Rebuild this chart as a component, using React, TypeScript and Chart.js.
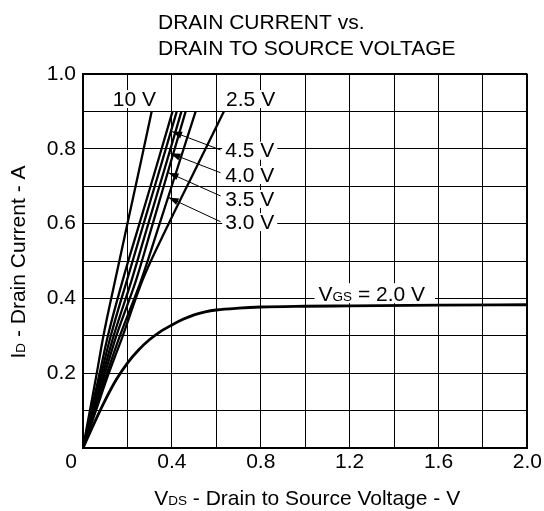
import React, { useEffect, useRef } from "react";
import { Chart, registerables } from "chart.js";

Chart.register(...registerables);

// ---- data ----
// Drain current (A) levels at which the steep VGS curves were read
const fanCurrents = [0, 0.1, 0.2, 0.3, 0.449, 0.6, 0.75, 0.9];
// Drain-to-source voltage (V) of each curve at those currents
const vds10V = [0, 0.031, 0.062, 0.092, 0.145, 0.2, 0.255, 0.309];
const vdsUnlabeled = [0, 0.037, 0.075, 0.112, 0.179, 0.254, 0.329, 0.403];
const vds4p5V = [0, 0.041, 0.083, 0.125, 0.198, 0.273, 0.348, 0.422];
const vds4p0V = [0, 0.045, 0.091, 0.138, 0.219, 0.294, 0.369, 0.443];
const vds3p5V = [0, 0.049, 0.099, 0.15, 0.239, 0.314, 0.388, 0.462];
const vds3p0V = [0, 0.054, 0.108, 0.166, 0.262, 0.345, 0.426, 0.507];
const vds2p5V = [0, 0.058, 0.116, 0.179, 0.268, 0.386, 0.51, 0.634];

// VGS = 2.0 V curve
const vds2p0V = [0, 0.05, 0.1, 0.15, 0.2, 0.25, 0.3, 0.35, 0.4, 0.45, 0.5, 0.55, 0.6, 0.7, 0.8, 1.0, 1.2, 1.6, 2.0];
const id2p0V = [0, 0.066, 0.128, 0.183, 0.227, 0.262, 0.29, 0.312, 0.329, 0.344, 0.356, 0.364, 0.369, 0.374, 0.377, 0.379, 0.38, 0.382, 0.383];

// tick labels
const xTickValues = [0.4, 0.8, 1.2, 1.6, 2.0];
const xTickLabels = ["0.4", "0.8", "1.2", "1.6", "2.0"];
const yTickValues = [0.2, 0.4, 0.6, 0.8, 1.0];
const yTickLabels = ["0.2", "0.4", "0.6", "0.8", "1.0"];
const originLabel = "0";

// titles
const titleLines = ["DRAIN CURRENT vs.", "DRAIN TO SOURCE VOLTAGE"];

// curve labels (left edge in V, vertical centre in A)
const curveLabels = ["10 V", "2.5 V", "4.5 V", "4.0 V", "3.5 V", "3.0 V"];
const curveLabelX = [0.134, 0.644, 0.64, 0.64, 0.64, 0.64];
const curveLabelY = [0.933, 0.933, 0.795, 0.73, 0.666, 0.604];

// arrows from labels 4.5/4.0/3.5/3.0 V to their curves
const arrowTailX = [0.619, 0.619, 0.619, 0.619];
const arrowTailY = [0.797, 0.736, 0.674, 0.605];
const arrowTipX = [0.401, 0.393, 0.385, 0.385];
const arrowTipY = [0.846, 0.788, 0.736, 0.67];

// VGS = 2.0 V label
const vgsLabelX = 1.06;
const vgsLabelY = 0.414;

const FONT_FAMILY = '"Liberation Sans", Arial, Helvetica, sans-serif';
const MAIN = 21;
const SUB = 13.5;

type Seg = { t: string; s: number };

function segWidth(ctx: CanvasRenderingContext2D, segs: Seg[]) {
  let w = 0;
  for (const sg of segs) {
    ctx.font = `${sg.s}px ${FONT_FAMILY}`;
    w += ctx.measureText(sg.t).width;
  }
  return w;
}

function drawSegs(ctx: CanvasRenderingContext2D, segs: Seg[], x: number, y: number) {
  let cx = x;
  ctx.textAlign = "left";
  for (const sg of segs) {
    ctx.font = `${sg.s}px ${FONT_FAMILY}`;
    ctx.fillText(sg.t, cx, y);
    cx += ctx.measureText(sg.t).width;
  }
}

const overlayPlugin = {
  id: "overlay",
  beforeDatasetsDraw(chart: any) {
    const { ctx, scales } = chart;
    const xs = scales.x;
    const ys = scales.y;
    ctx.save();
    ctx.textBaseline = "middle";
    ctx.font = `${MAIN}px ${FONT_FAMILY}`;
    // curve labels with white background
    for (let i = 0; i < curveLabels.length; i++) {
      const px = xs.getPixelForValue(curveLabelX[i]);
      const py = ys.getPixelForValue(curveLabelY[i]);
      const w = ctx.measureText(curveLabels[i]).width;
      ctx.fillStyle = "#fff";
      ctx.fillRect(px - 3, py - 9, w + 6, 18);
      ctx.fillStyle = "#000";
      ctx.fillText(curveLabels[i], px, py + 1);
    }
    // arrows
    ctx.strokeStyle = "#000";
    ctx.fillStyle = "#000";
    ctx.lineWidth = 1;
    for (let i = 0; i < arrowTipX.length; i++) {
      const x1 = xs.getPixelForValue(arrowTailX[i]);
      const y1 = ys.getPixelForValue(arrowTailY[i]);
      const x2 = xs.getPixelForValue(arrowTipX[i]);
      const y2 = ys.getPixelForValue(arrowTipY[i]);
      ctx.beginPath();
      ctx.moveTo(x1, y1);
      ctx.lineTo(x2, y2);
      ctx.stroke();
      const ang = Math.atan2(y2 - y1, x2 - x1);
      const L = 10;
      const H = 3.5;
      ctx.beginPath();
      ctx.moveTo(x2, y2);
      ctx.lineTo(x2 - L * Math.cos(ang) + H * Math.sin(ang), y2 - L * Math.sin(ang) - H * Math.cos(ang));
      ctx.lineTo(x2 - L * Math.cos(ang) - H * Math.sin(ang), y2 - L * Math.sin(ang) + H * Math.cos(ang));
      ctx.closePath();
      ctx.fill();
    }
    // VGS label
    const vgsSegs: Seg[] = [
      { t: "V", s: MAIN },
      { t: "GS", s: SUB },
      { t: " = 2.0 V", s: MAIN },
    ];
    const vx = xs.getPixelForValue(vgsLabelX);
    const vy = ys.getPixelForValue(vgsLabelY);
    const vw = segWidth(ctx, vgsSegs);
    ctx.fillStyle = "#fff";
    ctx.fillRect(vx - 4, vy - 10, vw + 14, 20);
    ctx.fillStyle = "#000";
    ctx.textBaseline = "alphabetic";
    drawSegs(ctx, vgsSegs, vx, vy + 8);
    ctx.restore();
  },
  afterDraw(chart: any) {
    const { ctx, chartArea, scales } = chart;
    const xs = scales.x;
    ctx.save();
    ctx.fillStyle = "#000";
    ctx.textBaseline = "alphabetic";
    ctx.textAlign = "left";
    ctx.font = `${MAIN}px ${FONT_FAMILY}`;
    ctx.fillText(titleLines[0], 158, 29);
    ctx.fillText(titleLines[1], 158, 55);

    // origin tick label
    ctx.textAlign = "center";
    ctx.textBaseline = "middle";
    ctx.fillText(originLabel, xs.getPixelForValue(0) - 12, chartArea.bottom + 14.6);

    // x axis title
    const xSegs: Seg[] = [
      { t: "V", s: MAIN },
      { t: "DS", s: SUB },
      { t: " - Drain to Source Voltage - V", s: MAIN },
    ];
    ctx.textBaseline = "alphabetic";
    const xw = segWidth(ctx, xSegs);
    const xc = (chartArea.left + chartArea.right) / 2 + 2;
    drawSegs(ctx, xSegs, xc - xw / 2, 505);

    // y axis title
    const ySegs: Seg[] = [
      { t: "I", s: MAIN },
      { t: "D", s: SUB },
      { t: " - Drain Current - A", s: MAIN },
    ];
    const yw = segWidth(ctx, ySegs);
    const yc = (chartArea.top + chartArea.bottom) / 2 + 1;
    ctx.translate(25, yc);
    ctx.rotate(-Math.PI / 2);
    drawSegs(ctx, ySegs, -yw / 2, 0);
    ctx.restore();
  },
};

function toPoints(xsArr: number[], ysArr: number[]) {
  return xsArr.map((v, i) => ({ x: v, y: ysArr[i] }));
}

export default function App() {
  const canvasRef = useRef<HTMLCanvasElement | null>(null);

  useEffect(() => {
    const canvas = canvasRef.current;
    if (!canvas) return;
    const fanSeries: [string, number[]][] = [
      ["10 V", vds10V],
      ["unlabeled", vdsUnlabeled],
      ["4.5 V", vds4p5V],
      ["4.0 V", vds4p0V],
      ["3.5 V", vds3p5V],
      ["3.0 V", vds3p0V],
      ["2.5 V", vds2p5V],
    ];
    const datasets: any[] = fanSeries.map(([name, arr]) => ({
      label: name,
      data: toPoints(arr, fanCurrents),
      borderColor: "#000",
      borderWidth: 2.3,
      pointRadius: 0,
      showLine: true,
      fill: false,
      cubicInterpolationMode: "monotone",
    }));
    datasets.push({
      label: "2.0 V",
      data: toPoints(vds2p0V, id2p0V),
      borderColor: "#000",
      borderWidth: 2.8,
      pointRadius: 0,
      showLine: true,
      fill: false,
      cubicInterpolationMode: "monotone",
      tension: 0.4,
    });

    const tickFont = { family: FONT_FAMILY, size: MAIN };
    const near = (a: number, b: number) => Math.abs(a - b) < 1e-6;

    const chart = new Chart(canvas, {
      type: "scatter",
      data: { datasets },
      options: {
        responsive: false,
        animation: false,
        devicePixelRatio: 1,
        layout: { padding: { top: 74, right: 14, left: 0, bottom: 0 } },
        plugins: {
          legend: { display: false },
          tooltip: { enabled: false },
          title: { display: false },
        },
        scales: {
          x: {
            type: "linear",
            min: 0,
            max: 2,
            afterFit: (s: any) => {
              s.height = 63;
            },
            ticks: {
              stepSize: 0.2,
              autoSkip: false,
              maxRotation: 0,
              padding: 2,
              color: "#000",
              font: tickFont,
              callback: (v: any) => {
                const idx = xTickValues.findIndex((t) => near(t, Number(v)));
                return idx >= 0 ? xTickLabels[idx] : "";
              },
            },
            grid: {
              color: "#000",
              drawTicks: false,
              lineWidth: (c: any) => (c.tick && near(c.tick.value, 2) ? 2 : 1),
            },
            border: { color: "#000", width: 2 },
          },
          y: {
            type: "linear",
            min: 0,
            max: 1,
            afterFit: (s: any) => {
              s.width = 83;
            },
            ticks: {
              stepSize: 0.1,
              autoSkip: false,
              padding: 7,
              color: "#000",
              font: tickFont,
              callback: (v: any) => {
                const idx = yTickValues.findIndex((t) => near(t, Number(v)));
                return idx >= 0 ? yTickLabels[idx] : "";
              },
            },
            grid: {
              color: "#000",
              drawTicks: false,
              lineWidth: (c: any) => (c.tick && near(c.tick.value, 1) ? 2 : 1),
            },
            border: { color: "#000", width: 2 },
          },
        },
      } as any,
      plugins: [overlayPlugin],
    });
    return () => chart.destroy();
  }, []);

  return (
    <div style={{ position: "fixed", left: 0, top: 0, width: 544, height: 511, background: "#fff" }}>
      <canvas ref={canvasRef} width={544} height={511} style={{ width: 544, height: 511, display: "block" }} />
    </div>
  );
}
